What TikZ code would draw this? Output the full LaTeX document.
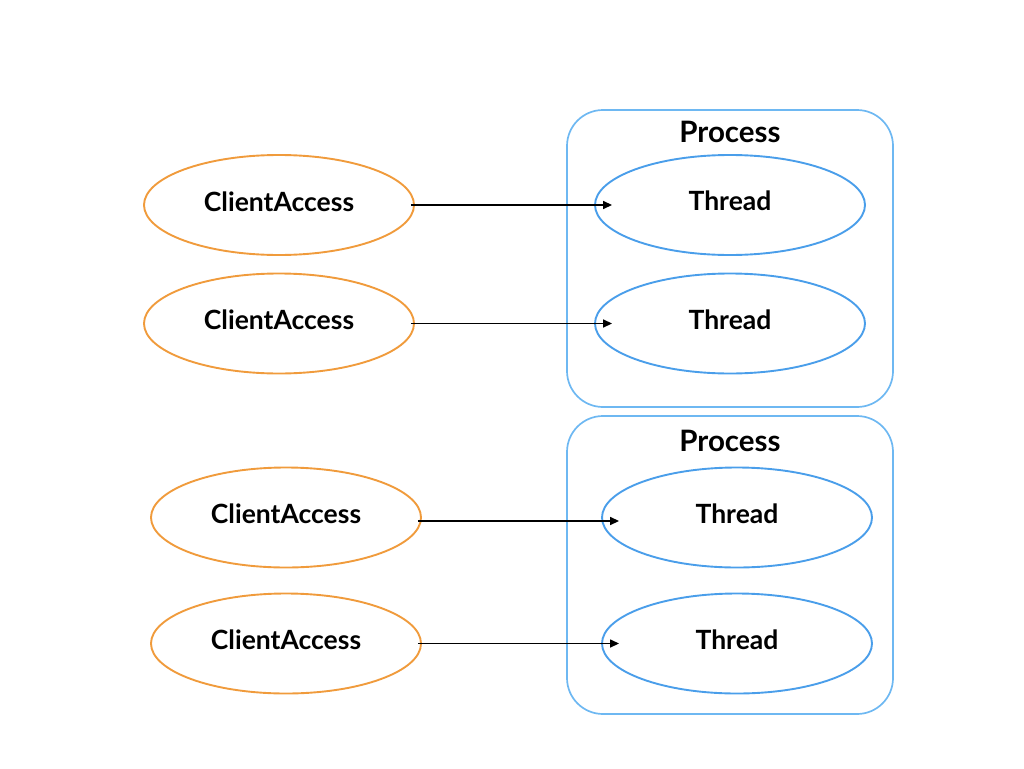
\documentclass[tikz,border=0pt]{standalone}
\usepackage{fontspec}
\setmainfont{Lato}
\usetikzlibrary{shapes.geometric,arrows.meta}
\definecolor{corange}{RGB}{240,155,60}
\definecolor{cblue}{RGB}{74,158,234}
\definecolor{cbox}{RGB}{110,184,242}
\tikzset{
  client/.style={ellipse,draw=corange,line width=1.9pt,minimum width=270pt,minimum height=100pt,inner sep=0pt,font=\bfseries\fontsize{26.5}{28}\selectfont},
  thread/.style={ellipse,draw=cblue,line width=1.9pt,minimum width=270pt,minimum height=100pt,inner sep=0pt,font=\bfseries\fontsize{26.5}{28}\selectfont},
  procbox/.style={draw=cbox,line width=1.7pt,rounded corners=36pt,minimum width=326pt,inner sep=0pt},
  plabel/.style={font=\bfseries\fontsize{29.5}{32}\selectfont,inner sep=0pt},
  conn/.style={line width=1.5pt,-{Triangle[length=9pt,width=8pt]}}
}
\begin{document}
\begin{tikzpicture}[x=1pt,y=-1pt]
\useasboundingbox (0,0) rectangle (1024,768);
% process boxes
\node[procbox,minimum height=297pt] (p1) at (730,258.5) {};
\node[procbox,minimum height=298pt] (p2) at (730,565) {};
\node[plabel] (pl1) at (730,132) {Process};
\node[plabel] (pl2) at (730,441) {Process};
% clients
\node[client] (c1) at (279,205) {\raisebox{7pt}{ClientAccess}};
\node[client] (c2) at (279,323.5) {\raisebox{7pt}{ClientAccess}};
\node[client] (c3) at (286,517.5) {\raisebox{7pt}{ClientAccess}};
\node[client] (c4) at (286,643.5) {\raisebox{7pt}{ClientAccess}};
% threads
\node[thread] (t1) at (730,205) {\raisebox{8pt}{Thread}};
\node[thread] (t2) at (730,323.5) {\raisebox{7pt}{Thread}};
\node[thread] (t3) at (737,517.5) {\raisebox{7pt}{Thread}};
\node[thread] (t4) at (737,643.5) {\raisebox{7pt}{Thread}};
% connectors
\draw[conn] ([xshift=-4pt]c1.east) -- ([xshift=18pt]t1.west);
\draw[conn] ([xshift=-4pt]c2.east) -- ([xshift=18pt]t2.west);
\draw[conn] ([xshift=-4pt,yshift=-3.5pt]c3.east) -- ([xshift=18pt,yshift=-3.5pt]t3.west);
\draw[conn] ([xshift=-4pt]c4.east) -- ([xshift=18pt]t4.west);
\end{tikzpicture}
\end{document}
